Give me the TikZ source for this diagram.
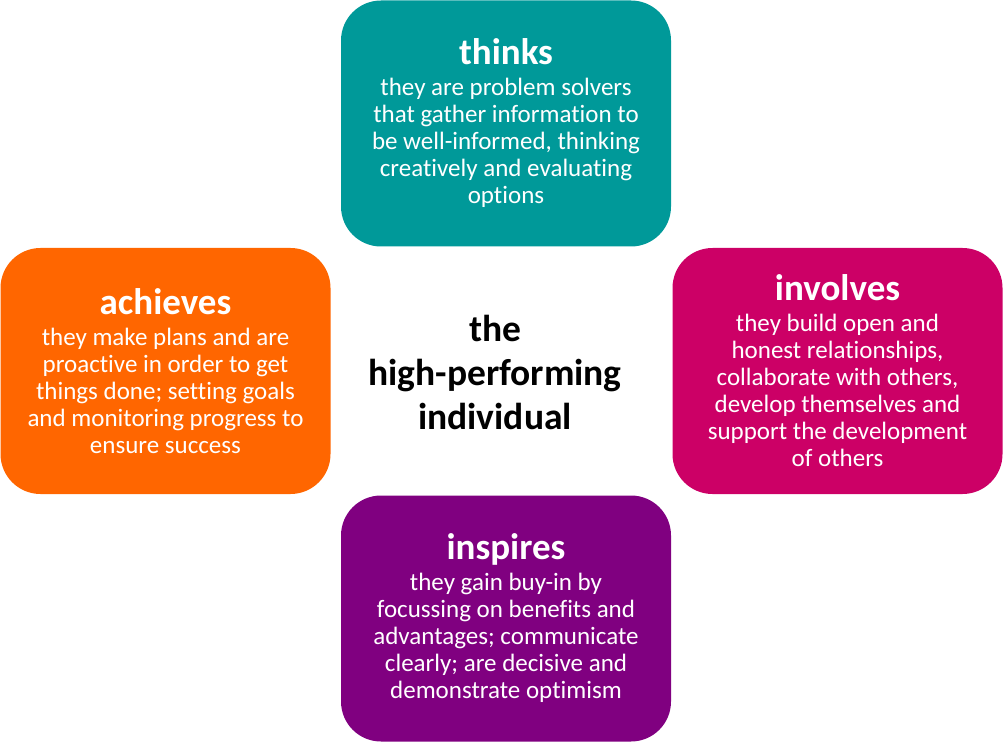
\documentclass[tikz,border=0pt]{standalone}
\usepackage{fontspec}
\setmainfont{Carlito}[Ligatures={NoCommon,NoRare}]
\definecolor{cteal}{HTML}{009999}
\definecolor{corange}{HTML}{FF6600}
\definecolor{cmagenta}{HTML}{CC0066}
\definecolor{cpurple}{HTML}{800080}
\begin{document}
\begin{tikzpicture}[x=1pt,y=-1pt,
  card/.style={rounded corners=40pt, minimum width=330pt, minimum height=246pt, align=center, text=white, inner sep=0pt, font=\fontsize{25}{27}\selectfont}]
\useasboundingbox (0,0) rectangle (1003,743);
\newcommand{\cardtitle}[1]{{\fontsize{37}{37}\selectfont\bfseries #1}\\[4pt]}
\node[card, fill=cteal] (thinks) at (506,123.5) {\cardtitle{thinks}they are problem solvers\\that gather information to\\be well-informed, thinking\\creatively and evaluating\\options};
\node[card, fill=corange] (achieves) at (165.5,371) {\cardtitle{achieves}they make plans and are\\proactive in order to get\\things done; setting goals\\and monitoring progress to\\ensure success};
\node[card, fill=cmagenta] (involves) at (837.5,371) {\cardtitle{involves}they build open and\\honest relationships,\\collaborate with others,\\develop themselves and\\support the development\\of others};
\node[card, fill=cpurple] (inspires) at (506,618.5) {\cardtitle{inspires}they gain buy-in by\\focussing on benefits and\\advantages; communicate\\clearly; are decisive and\\demonstrate optimism};
\node[align=center, font=\fontsize{37.5}{44}\selectfont\bfseries] (center) at (495,372) {the\\high-performing\\individual};
\end{tikzpicture}
\end{document}
